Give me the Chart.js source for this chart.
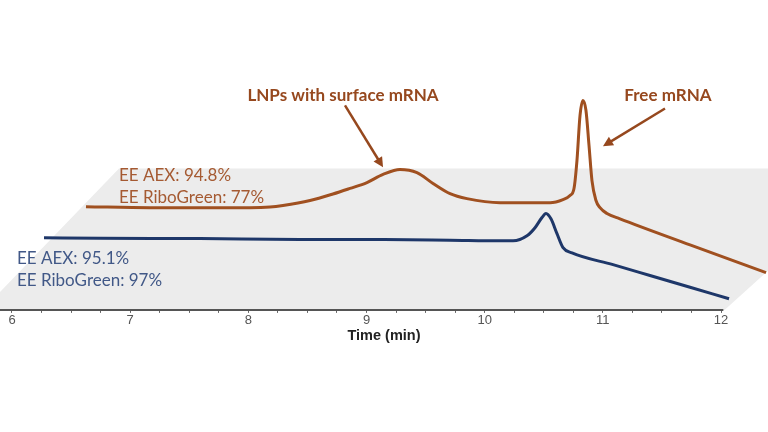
<!DOCTYPE html>
<html>
<head>
<meta charset="utf-8">
<script src="https://cdn.jsdelivr.net/npm/chart.js@4"></script>
<style>
  html, body { margin: 0; padding: 0; background: #ffffff; }
  #wrap { width: 768px; height: 432px; position: relative; }
</style>
</head>
<body>
<div id="wrap"><canvas id="c" width="768" height="432"></canvas></div>
<script>
// ---- Data (time in min, signal in arbitrary units) ----
const blueTime   = [6.271, 6.745, 7.591, 8.437, 9.148, 9.706, 10.130, 10.240, 10.358, 10.426, 10.485, 10.519, 10.561, 10.612, 10.663, 10.739, 11.086, 11.399, 11.738, 12.068];
const blueSignal = [23.3, 23.1, 23.0, 22.7, 22.7, 22.5, 22.3, 22.3, 23.9, 26.5, 29.8, 31.1, 29.4, 24.6, 20.1, 18.4, 14.6, 11.1, 7.3, 3.6];

const brownTime   = [6.626, 7.168, 8.014, 8.183, 8.293, 8.522, 8.716, 8.860, 9.004, 9.140, 9.283, 9.427, 9.563, 9.707, 9.850, 10.130, 10.553, 10.663, 10.722, 10.756, 10.781, 10.807, 10.832, 10.857, 10.883, 10.908, 10.942, 10.976, 11.035, 11.145, 11.738, 12.381];
const brownSignal = [33.3, 33.0, 33.0, 33.2, 33.7, 35.3, 37.4, 39.2, 41.1, 43.7, 45.3, 44.3, 40.8, 37.5, 35.9, 34.6, 34.6, 35.6, 36.9, 39.2, 48.2, 62.8, 67.6, 64.4, 53.1, 41.7, 35.3, 33.0, 31.1, 29.4, 21.0, 12.0];

const majorTicks = [6, 7, 8, 9, 10, 11, 12];
const axisTitle = 'Time (min)';

const brownNotes = ['EE AEX: 94.8%', 'EE RiboGreen: 77%'];
const blueNotes  = ['EE AEX: 95.1%', 'EE RiboGreen: 97%'];
const peakLabels = ['LNPs with surface mRNA', 'Free mRNA'];

// ---- Styles ----
const BROWN_LINE = 'rgb(160,80,32)';
const BLUE_LINE  = 'rgb(30,55,105)';
const BROWN_TEXT = 'rgb(165,90,50)';
const BROWN_HEAD = 'rgb(150,72,30)';
const BLUE_TEXT  = 'rgb(65,88,135)';
const TEXT_FONT  = 'Lato, "Open Sans", sans-serif';
const AXIS_FONT  = '"Liberation Sans Narrow", "Arial Narrow", "Liberation Sans", Arial, sans-serif';

const toPts = (xs, ys) => xs.map((x, i) => ({ x: x, y: ys[i] }));

const decor = {
  id: 'decor',
  beforeDatasetsDraw(chart) {
    const { ctx, scales: { x, y } } = chart;
    // gray perspective plane (in data coordinates)
    const plane = [[5.8985, 0], [12.03, 0], [12.3977, 12.6], [12.3977, 45.6], [6.9055, 45.6], [5.8985, 5.8]];
    ctx.save();
    ctx.fillStyle = 'rgb(236,236,236)';
    ctx.beginPath();
    plane.forEach((p, i) => {
      const px = x.getPixelForValue(p[0]), py = y.getPixelForValue(p[1]);
      if (i === 0) ctx.moveTo(px, py); else ctx.lineTo(px, py);
    });
    ctx.closePath();
    ctx.fill();
    ctx.restore();
  },
  afterDatasetsDraw(chart) {
    const { ctx, chartArea, scales: { x, y } } = chart;
    ctx.save();
    // axis line
    ctx.strokeStyle = '#555';
    ctx.lineWidth = 2;
    ctx.beginPath();
    ctx.moveTo(x.getPixelForValue(5.8985), chartArea.bottom);
    ctx.lineTo(x.getPixelForValue(12.02), chartArea.bottom);
    ctx.stroke();

    // text notes
    ctx.textBaseline = 'middle';
    ctx.textAlign = 'left';
    ctx.font = '17px ' + TEXT_FONT;
    ctx.fillStyle = BROWN_TEXT;
    ctx.fillText(brownNotes[0], x.getPixelForValue(6.905), y.getPixelForValue(43.4));
    ctx.fillText(brownNotes[1], x.getPixelForValue(6.905), y.getPixelForValue(36.2));
    ctx.fillStyle = BLUE_TEXT;
    ctx.fillText(blueNotes[0], x.getPixelForValue(6.042), y.getPixelForValue(16.5));
    ctx.fillText(blueNotes[1], x.getPixelForValue(6.042), y.getPixelForValue(9.4));

    ctx.font = 'bold 17px ' + TEXT_FONT;
    ctx.fillStyle = BROWN_HEAD;
    ctx.textAlign = 'center';
    ctx.fillText(peakLabels[0], x.getPixelForValue(8.801), y.getPixelForValue(69.3));
    ctx.fillText(peakLabels[1], x.getPixelForValue(11.551), y.getPixelForValue(69.3));

    // arrows
    const arrow = (t0, v0, t1, v1) => {
      const x0 = x.getPixelForValue(t0), y0 = y.getPixelForValue(v0);
      const x1 = x.getPixelForValue(t1), y1 = y.getPixelForValue(v1);
      const a = Math.atan2(y1 - y0, x1 - x0);
      const L = 10, W = 5;
      ctx.strokeStyle = BROWN_HEAD;
      ctx.fillStyle = BROWN_HEAD;
      ctx.lineWidth = 2.5;
      ctx.beginPath();
      ctx.moveTo(x0, y0);
      ctx.lineTo(x1 - L * 0.8 * Math.cos(a), y1 - L * 0.8 * Math.sin(a));
      ctx.stroke();
      ctx.beginPath();
      ctx.moveTo(x1, y1);
      ctx.lineTo(x1 - L * Math.cos(a) + W * Math.sin(a), y1 - L * Math.sin(a) - W * Math.cos(a));
      ctx.lineTo(x1 - L * Math.cos(a) - W * Math.sin(a), y1 - L * Math.sin(a) + W * Math.cos(a));
      ctx.closePath();
      ctx.fill();
    };
    arrow(8.818, 66.0, 9.140, 46.0);
    arrow(11.526, 65.0, 11.001, 52.8);
    ctx.restore();
  }
};

new Chart(document.getElementById('c'), {
  type: 'line',
  data: {
    datasets: [
      { label: 'Brown', data: toPts(brownTime, brownSignal), borderColor: BROWN_LINE, borderWidth: 3, pointRadius: 0, fill: false, cubicInterpolationMode: 'monotone' },
      { label: 'Blue',  data: toPts(blueTime, blueSignal),  borderColor: BLUE_LINE,  borderWidth: 3, pointRadius: 0, fill: false, cubicInterpolationMode: 'monotone' }
    ]
  },
  options: {
    responsive: false,
    animation: false,
    layout: { padding: { left: 0, right: 0, top: 0, bottom: 89 } },
    plugins: { legend: { display: false }, tooltip: { enabled: false } },
    scales: {
      x: {
        type: 'linear',
        min: 5.8985,
        max: 12.3977,
        border: { display: false },
        grid: { display: true, drawOnChartArea: false, drawTicks: true, tickLength: 3, color: '#666', lineWidth: 1 },
        afterBuildTicks(scale) {
          const t = [];
          majorTicks.forEach((m, i) => {
            t.push({ value: m });
            if (i < majorTicks.length - 1) {
              for (let q = 1; q < 4; q++) t.push({ value: m + q * 0.25 });
            }
          });
          scale.ticks = t;
        },
        ticks: {
          autoSkip: false,
          maxRotation: 0,
          padding: 0,
          color: '#555',
          font: { family: AXIS_FONT, size: 13 },
          callback: (v) => (majorTicks.includes(v) ? String(v) : '')
        },
        title: {
          display: true,
          text: axisTitle,
          color: '#222',
          font: { family: AXIS_FONT, size: 14.5, weight: 'bold', lineHeight: 1 },
          padding: { top: 0, bottom: 0 }
        }
      },
      y: { display: false, min: 0, max: 100 }
    }
  },
  plugins: [decor]
});
</script>
</body>
</html>
